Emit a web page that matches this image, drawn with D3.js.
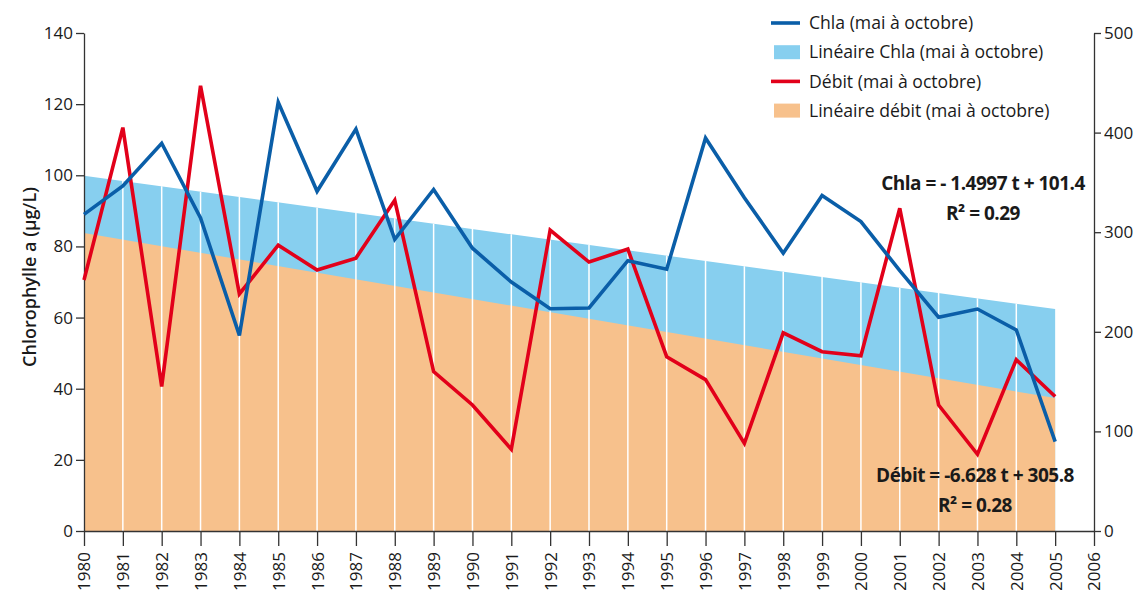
<!DOCTYPE html>
<html>
<head>
<meta charset="utf-8">
<script src="https://cdn.jsdelivr.net/npm/d3@7"></script>
<style>
  body { margin: 0; background: #fff; }
  svg { font-family: "Open Sans", sans-serif; }
</style>
</head>
<body>
<div id="chart"></div>
<script>
// data
var years = d3.range(1980, 2006);
var chla = [89, 97, 109, 88, 55, 120.5, 95.5, 113, 82, 96, 79.5, 70, 62.5, 62.7, 76, 73.6,
  110.5, 93.7, 78.1, 94.3, 87, 73.2, 60.1, 62.4, 56.5, 25.1];
var debit = [252, 405, 145, 447, 238, 287, 262, 274, 332, 160, 126.5, 82, 302, 270, 283, 175,
  152, 88, 199, 180, 176, 324, 126.5, 77, 172, 135];
// regression lines as printed on the chart (t = year - 1979)
var chlaTrend = { slope: -1.4997, intercept: 101.4, r2: "0.29" };
var debitTrend = { slope: -6.628, intercept: 305.8, r2: "0.28" };
var leftTicks = [0, 20, 40, 60, 80, 100, 120, 140];
var rightTicks = [0, 100, 200, 300, 400, 500];
var xTicks = d3.range(1980, 2007);

var blue = "#0a5ea8", red = "#e2001a", lightBlue = "#87cfef", orange = "#f7c18c";

var W = 1136, H = 590;
var x0 = 84, x1 = 1094, yBottom = 531, yTop = 33;

var svg = d3.select("#chart").append("svg")
  .attr("width", W)
  .attr("height", H);

var x = d3.scaleLinear().domain([1980, 2006]).range([x0, x1]);
var y = d3.scaleLinear().domain([0, 140]).range([yBottom, yTop]);
var y2 = d3.scaleLinear().domain([0, 500]).range([yBottom, yTop]);

function tr(o, yr) { return o.slope * (yr - 1979) + o.intercept; }

// trend areas
svg.append("path")
  .attr("d", d3.area()
    .x(function (d) { return x(d); })
    .y0(yBottom)
    .y1(function (d) { return y(tr(chlaTrend, d)); })([1980, 2005]))
  .attr("fill", lightBlue);

svg.append("path")
  .attr("d", d3.area()
    .x(function (d) { return x(d); })
    .y0(yBottom)
    .y1(function (d) { return y2(tr(debitTrend, d)); })([1980, 2005]))
  .attr("fill", orange);

// white year lines through the areas
svg.append("g").selectAll("line")
  .data(d3.range(1981, 2005))
  .enter().append("line")
  .attr("x1", function (d) { return x(d); })
  .attr("x2", function (d) { return x(d); })
  .attr("y1", yBottom)
  .attr("y2", function (d) { return y(tr(chlaTrend, d)); })
  .attr("stroke", "#fff")
  .attr("stroke-width", 1.5);

// axes
var gx = svg.append("g")
  .attr("transform", "translate(0," + yBottom + ")")
  .call(d3.axisBottom(x).tickValues(xTicks).tickFormat(d3.format("d")).tickSize(15).tickSizeOuter(0));
gx.selectAll("text")
  .attr("transform", "rotate(-90)")
  .attr("x", -21)
  .attr("y", 0)
  .attr("dy", "0.35em")
  .style("text-anchor", "end");

var gl = svg.append("g")
  .attr("transform", "translate(" + x0 + ",0)")
  .call(d3.axisLeft(y).tickValues(leftTicks).tickSize(8).tickSizeOuter(0));
gl.selectAll("text").attr("x", -11);

var gr = svg.append("g")
  .attr("transform", "translate(" + x1 + ",0)")
  .call(d3.axisRight(y2).tickValues(rightTicks).tickSize(7).tickSizeOuter(0));
gr.selectAll("text").attr("x", 10);

svg.selectAll(".tick text")
  .attr("fill", "#1a1a1a")
  .style("font-size", "17px")
  .style("font-family", "'Open Sans', sans-serif");
svg.selectAll(".domain, .tick line")
  .attr("stroke", "#333")
  .attr("stroke-width", 1.3);

// data lines
svg.append("path")
  .datum(years)
  .attr("fill", "none")
  .attr("stroke", red)
  .attr("stroke-width", 3.6)
  .attr("d", d3.line()
    .x(function (d) { return x(d); })
    .y(function (d, i) { return y2(debit[i]); }));

svg.append("path")
  .datum(years)
  .attr("fill", "none")
  .attr("stroke", blue)
  .attr("stroke-width", 3.6)
  .attr("d", d3.line()
    .x(function (d) { return x(d); })
    .y(function (d, i) { return y(chla[i]); }));

// y axis title
svg.append("text")
  .attr("transform", "translate(30,277) rotate(-90)")
  .attr("text-anchor", "middle")
  .attr("dy", "0.35em")
  .style("font-size", "18px")
  .style("font-weight", "600")
  .attr("fill", "#1a1a1a")
  .text("Chlorophylle a (µg/L)");

// legend
var legendItems = [
  { label: "Chla (mai à octobre)", type: "line", color: blue },
  { label: "Linéaire Chla (mai à octobre)", type: "rect", color: lightBlue },
  { label: "Débit (mai à octobre)", type: "line", color: red },
  { label: "Linéaire débit (mai à octobre)", type: "rect", color: orange }
];
var lg = svg.append("g").selectAll("g")
  .data(legendItems)
  .enter().append("g")
  .attr("transform", function (d, i) { return "translate(771," + (23 + i * 29.2) + ")"; });
lg.filter(function (d) { return d.type === "line"; })
  .append("line")
  .attr("x1", 0).attr("x2", 29)
  .attr("stroke", function (d) { return d.color; })
  .attr("stroke-width", 3.6);
lg.filter(function (d) { return d.type === "rect"; })
  .append("rect")
  .attr("x", 3).attr("y", -7)
  .attr("width", 26).attr("height", 14)
  .attr("fill", function (d) { return d.color; });
lg.append("text")
  .attr("x", 38)
  .attr("dy", "0.35em")
  .style("font-size", "17.6px")
  .attr("fill", "#1a1a1a")
  .text(function (d) { return d.label; });

// equations
function eq(cx, yy, lines) {
  svg.append("g").selectAll("text")
    .data(lines)
    .enter().append("text")
    .attr("x", cx)
    .attr("y", function (d, i) { return yy + i * 30; })
    .attr("text-anchor", "middle")
    .style("font-size", "19px")
    .style("font-weight", "bold")
    .style("letter-spacing", "-0.5px")
    .attr("fill", "#1a1a1a")
    .text(function (d) { return d; });
}
eq(983, 190, ["Chla = - " + Math.abs(chlaTrend.slope) + " t + " + chlaTrend.intercept, "R² = " + chlaTrend.r2]);
eq(975, 482, ["Débit = " + debitTrend.slope + " t + " + debitTrend.intercept, "R² = " + debitTrend.r2]);
</script>
</body>
</html>
